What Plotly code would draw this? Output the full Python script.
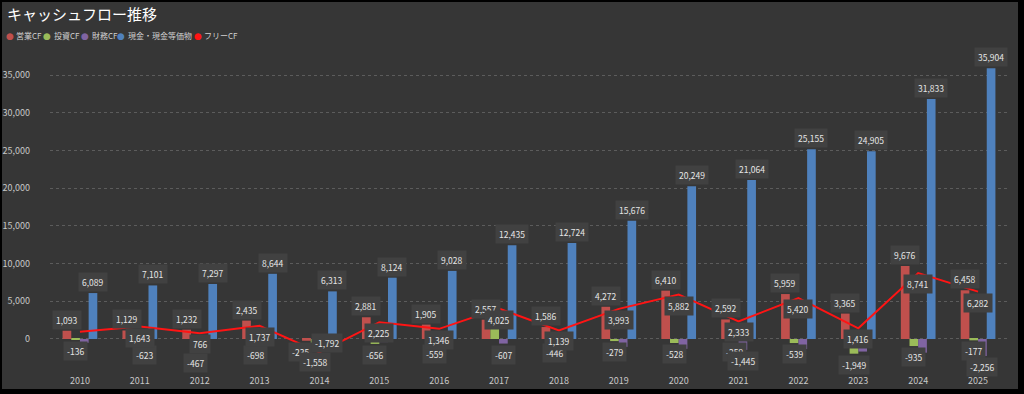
import plotly.graph_objects as go

# ---- data ----
years = [2010, 2011, 2012, 2013, 2014, 2015, 2016, 2017, 2018, 2019, 2020, 2021, 2022, 2023, 2024, 2025]
operating_cf = [1093, 1129, 1232, 2435, -235, 2881, 1905, 2557, 1586, 4272, 6410, 2592, 5959, 3365, 9676, 6458]
investing_cf = [-136, 514, -467, -698, -1558, -656, -559, 1468, -446, -279, -528, -259, -539, -1949, -935, -177]
financing_cf = [-500, -623, -570, -390, -539, -414, -442, -607, -850, -1041, -1309, -1445, -1329, -1666, -1813, -2256]
cash_eq = [6089, 7101, 7297, 8644, 6313, 8124, 9028, 12435, 12724, 15676, 20249, 21064, 25155, 24905, 31833, 35904]
free_cf = [957, 1643, 766, 1737, -1792, 2225, 1346, 4025, 1139, 3993, 5882, 2333, 5420, 1416, 8741, 6282]

# which data labels are displayed in the original
op_show = [True] * 16
inv_show = [True, False, True, True, True, True, True, False, True, True, True, True, True, True, True, True]
fin_show = [False, True, False, False, False, False, False, True, False, False, False, True, False, False, False, True]
cash_show = [True] * 16
free_show = [False] + [True] * 15

series_names = ["営業CF", "投資CF", "財務CF", "現金・現金等価物", "フリーCF"]
colors = ["#C0504D", "#9BBB59", "#8064A2", "#4F81BD", "#FF1414"]

# ---- layout geometry (style) ----
W, H = 1024, 394
ML, MR, MT, MB = 50, 16, 60, 36
PW, PH = W - ML - MR, H - MT - MB
BARGAP = 0.42
bw = (1 - BARGAP) / 4
offsets = [-1.5 * bw, -0.5 * bw, 0.5 * bw, 1.5 * bw]
FONT = "Noto Sans CJK JP"

def px_x(p):
    return (p - ML) / PW

def px_y(p):
    return (H - MB - p) / PH

fig = go.Figure()
bar_series = [operating_cf, investing_cf, financing_cf, cash_eq]
for i, vals in enumerate(bar_series):
    fig.add_trace(go.Bar(x=years, y=vals, name=series_names[i], marker_color=colors[i],
                         marker_line_width=0, showlegend=False))
fig.add_trace(go.Scatter(x=years, y=free_cf, name=series_names[4], mode="lines",
                         line=dict(color=colors[4], width=2), showlegend=False))

annotations = []
def label(x, y, v, shift, xs=0):
    annotations.append(dict(x=x, y=y, xref="x", yref="y", text=f"{v:,}", showarrow=False,
                            yshift=shift, xshift=xs, bgcolor="#414141", borderpad=3,
                            font=dict(family=FONT, size=8.5, color="#E6E6E6")))

shows = [op_show, inv_show, fin_show, cash_show]
for i, vals in enumerate(bar_series):
    for j, v in enumerate(vals):
        if shows[i][j]:
            s = 11 if v >= 0 else -11
            xs = 0
            if i == 1 and years[j] == 2012:
                s -= 9  # nudged to avoid overlap as in original
            if i == 0 and v < 0:
                xs = -6
            label(years[j] + offsets[i], v, v, s, xs)

# free CF labels drawn last (on top)
for j, v in enumerate(free_cf):
    if free_show[j]:
        xs = 8 if v < 0 else 0  # nudged as in original
        label(years[j], v, v, -11 if v >= 0 else 10, xs)

# title
annotations.append(dict(x=px_x(5), y=px_y(14), xref="paper", yref="paper", xanchor="left",
                        yanchor="middle", showarrow=False, text="キャッシュフロー推移",
                        font=dict(family=FONT, size=15, color="#FFFFFF")))
# legend (circle + text)
leg_circle = [9.5, 47, 85, 121, 197.5]
for k in range(5):
    annotations.append(dict(x=px_x(leg_circle[k]), y=px_y(36), xref="paper", yref="paper",
                            xanchor="center", yanchor="middle", showarrow=False, text="●",
                            font=dict(family="DejaVu Sans", size=9, color=colors[k])))
    annotations.append(dict(x=px_x(leg_circle[k] + 4.5), y=px_y(36), xref="paper", yref="paper",
                            xanchor="left", yanchor="middle", showarrow=False,
                            text=series_names[k],
                            font=dict(family=FONT, size=8, color="#D0D0D0")))

fig.update_layout(
    width=W, height=H,
    margin=dict(l=ML, r=MR, t=MT, b=MB, autoexpand=False),
    paper_bgcolor="#000000",
    plot_bgcolor="rgba(0,0,0,0)",
    barmode="group", bargap=BARGAP, bargroupgap=0,
    annotations=annotations,
    shapes=[dict(type="rect", xref="paper", yref="paper", x0=px_x(2), x1=px_x(1018),
                 y0=px_y(389), y1=px_y(2), fillcolor="#363636", line_width=0, layer="below")],
    xaxis=dict(range=[2009.5, 2025.5], tickvals=years, ticktext=[str(y) for y in years],
               showgrid=False, zeroline=False, showline=False, ticks="", automargin=False,
               ticklabelstandoff=16,
               tickfont=dict(family=FONT, size=9, color="#C8C8C8")),
    yaxis=dict(range=[-2520, 36990], tickvals=[0, 5000, 10000, 15000, 20000, 25000, 30000, 35000],
               tickformat=",", showgrid=True, gridcolor="#5C5C5C", griddash="dot", gridwidth=1,
               zeroline=False, showline=False, ticks="", ticklabelstandoff=19, automargin=False,
               tickfont=dict(family=FONT, size=9, color="#C8C8C8")),
    showlegend=False,
)

fig.write_html("out.html", config={"displayModeBar": False},
               post_script="document.body.style.margin='0px';document.body.style.overflow='hidden';")
